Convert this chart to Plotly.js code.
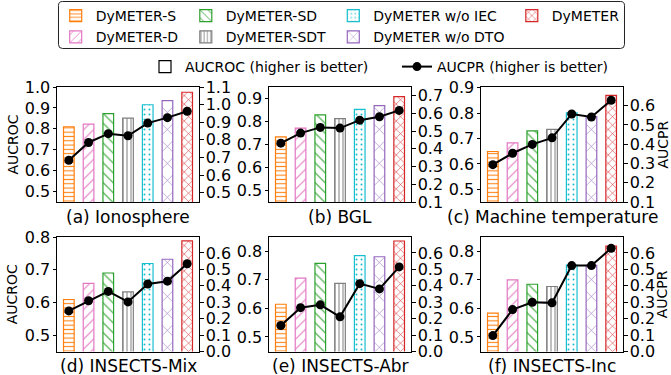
<!DOCTYPE html>
<html><head><meta charset="utf-8">
<script src="https://cdn.plot.ly/plotly-3.0.1.min.js"></script>
<style>html,body{margin:0;padding:0;background:#fff}#chart{width:671px;height:375px}</style>
</head><body><div id="chart"></div>
<script>
// ---- data ----
const methods = ['DyMETER-S','DyMETER-D','DyMETER-SD','DyMETER-SDT','DyMETER w/o IEC','DyMETER w/o DTO','DyMETER'];
const datasets = ['(a) Ionosphere','(b) BGL','(c) Machine temperature','(d) INSECTS-Mix','(e) INSECTS-Abr','(f) INSECTS-Inc'];

const aucrocIonosphere = [0.810, 0.822, 0.873, 0.851, 0.915, 0.935, 0.975];
const aucrocBGL        = [0.733, 0.771, 0.828, 0.812, 0.852, 0.868, 0.907];
const aucrocMachine    = [0.649, 0.683, 0.730, 0.736, 0.801, 0.786, 0.870];
const aucrocMix        = [0.609, 0.658, 0.690, 0.632, 0.719, 0.732, 0.788];
const aucrocAbr        = [0.614, 0.705, 0.757, 0.687, 0.784, 0.780, 0.835];
const aucrocInc        = [0.583, 0.699, 0.684, 0.676, 0.751, 0.750, 0.817];

const aucprIonosphere = [0.684, 0.785, 0.835, 0.823, 0.895, 0.926, 0.962];
const aucprBGL        = [0.432, 0.489, 0.521, 0.517, 0.562, 0.581, 0.617];
const aucprMachine    = [0.294, 0.353, 0.399, 0.433, 0.557, 0.541, 0.628];
const aucprMix        = [0.247, 0.309, 0.366, 0.302, 0.411, 0.428, 0.534];
const aucprAbr        = [0.158, 0.267, 0.284, 0.211, 0.413, 0.381, 0.515];
const aucprInc        = [0.097, 0.255, 0.300, 0.296, 0.523, 0.523, 0.628];

const aucrocAll = [aucrocIonosphere, aucrocBGL, aucrocMachine, aucrocMix, aucrocAbr, aucrocInc];
const aucprAll  = [aucprIonosphere, aucprBGL, aucprMachine, aucprMix, aucprAbr, aucprInc];

const metricLabels = ['AUCROC (higher is better)', 'AUCPR (higher is better)'];
const leftTitle = 'AUCROC';
const rightTitle = 'AUCPR';

// ---- styles ----
const colors = ['#ff7f0e','#e377c2','#2ca02c','#7f7f7f','#17becf','#9467bd','#d62728'];
const shapes = ['-','/','\\','|','.','x','x'];
const psizes = [4.3, 7, 7, 4, 5, 12, 6];
const psolid = [0.25, 0.15, 0.15, 0.25, 0.12, 0.09, 0.17];
const legendOf = ['legend','legend','legend2','legend2','legend3','legend3','legend4'];

const W = 671, H = 375;
const px = v => v / W, py = v => 1 - v / H;
const FONT = 'DejaVu Sans';
const TICKSIZE = 16;

// panel geometry (pixels) and axis ranges
const panels = [
  {x0:57,  x1:199, y0:87,  y1:202, left:[0.45,1.0],   right:[0.447,1.10]},
  {x0:269, x1:411, y0:87,  y1:202, left:[0.451,0.949],right:[0.1,0.749]},
  {x0:481, x1:623, y0:87,  y1:202, left:[0.45,0.903], right:[0.1,0.697]},
  {x0:57,  x1:199, y0:237, y1:351.5, left:[0.45,0.80], right:[0,0.697]},
  {x0:269, x1:411, y0:237, y1:351.5, left:[0.449,0.849],right:[0,0.697]},
  {x0:481, x1:623, y0:237, y1:351.5, left:[0.449,0.849],right:[0,0.697]},
];

const traces = [];
const layout = {
  width: W, height: H,
  margin: {l:0, r:0, t:0, b:0},
  paper_bgcolor: '#fff', plot_bgcolor: 'rgba(0,0,0,0)',
  font: {family: FONT, size: 17, color: '#000'},
  barmode: 'overlay',
  showlegend: true,
  annotations: [], shapes: []
};

const axisBase = {
  showgrid: false, zeroline: false, showline: true, linecolor: '#000', linewidth: 1,
  fixedrange: true
};

panels.forEach((p, k) => {
  const xn = k === 0 ? '' : String(k + 1);
  const yl = 2 * k + 1, yr = 2 * k + 2;
  const ylName = yl === 1 ? '' : String(yl);
  const yrName = String(yr);
  const tickCommon = {
    tick0: 0, dtick: 0.1, tickformat: '.1f',
    ticks: 'outside', ticklen: 3.5, tickwidth: 1, tickcolor: '#000',
    tickfont: {family: FONT, size: TICKSIZE, color: '#000'}, ticklabelstandoff: -1
  };
  layout['xaxis' + xn] = Object.assign({}, axisBase, {
    domain: [px(p.x0), px(p.x1)], anchor: 'y' + ylName,
    type: 'category', categoryorder: 'array', categoryarray: methods,
    range: [-0.6, 6.6], showticklabels: false, ticks: '', mirror: true
  });
  layout['yaxis' + ylName] = Object.assign({}, axisBase, tickCommon, {
    domain: [py(p.y1), py(p.y0)], anchor: 'x' + xn, side: 'left',
    range: p.left
  });
  layout['yaxis' + yrName] = Object.assign({}, axisBase, tickCommon, {
    domain: [py(p.y1), py(p.y0)], anchor: 'x' + xn, side: 'right',
    overlaying: 'y' + ylName, range: p.right
  });

  methods.forEach((m, i) => {
    traces.push({
      type: 'bar', name: m, x: [m], y: [aucrocAll[k][i]],
      xaxis: 'x' + xn, yaxis: 'y' + ylName, width: 0.54,
      marker: {
        color: colors[i],
        line: {color: colors[i], width: 1.2},
        pattern: {shape: shapes[i], size: psizes[i], solidity: psolid[i],
                  fgcolor: colors[i], bgcolor: '#fff', fillmode: 'replace'}
      },
      showlegend: k === 0, legend: legendOf[i], legendgroup: m,
      hoverinfo: 'skip'
    });
  });
  traces.push({
    type: 'scatter', mode: 'lines+markers', x: methods, y: aucprAll[k],
    xaxis: 'x' + xn, yaxis: 'y' + yrName,
    line: {color: '#000', width: 2}, marker: {color: '#000', size: 9},
    showlegend: false, hoverinfo: 'skip'
  });

  layout.annotations.push({
    text: datasets[k], xref: 'paper', yref: 'paper',
    x: px((p.x0 + p.x1) / 2), y: py(k < 3 ? 216.5 : 365.5),
    xanchor: 'center', yanchor: 'middle', showarrow: false,
    font: {family: FONT, size: 17, color: '#000'}
  });
});

// y-axis titles
[[0, 12, 'left'], [3, 12, 'left'], [2, 662, 'right'], [5, 662, 'right']].forEach(([k, xpix, side]) => {
  const p = panels[k];
  layout.annotations.push({
    text: side === 'left' ? leftTitle : rightTitle, textangle: -90,
    xref: 'paper', yref: 'paper', x: px(xpix), y: py((p.y0 + p.y1) / 2),
    xanchor: 'center', yanchor: 'middle', showarrow: false,
    font: {family: FONT, size: 14, color: '#000'}
  });
});

// metric legend entries
traces.push({
  type: 'bar', name: metricLabels[0], x: [null], y: [null], xaxis: 'x', yaxis: 'y',
  marker: {color: '#fff', line: {color: '#000', width: 1.2}},
  showlegend: true, legend: 'legend5', hoverinfo: 'skip'
});
traces.push({
  type: 'scatter', mode: 'lines+markers', name: metricLabels[1], x: [null], y: [null],
  xaxis: 'x', yaxis: 'y2', line: {color: '#000', width: 2}, marker: {color: '#000', size: 9},
  showlegend: true, legend: 'legend6', hoverinfo: 'skip'
});

const legBase = {
  orientation: 'v', xanchor: 'left', yanchor: 'top', bgcolor: 'rgba(0,0,0,0)',
  borderwidth: 0, font: {family: FONT, size: 14, color: '#000'},
  tracegroupgap: 0, itemclick: false, itemdoubleclick: false
};
layout.legend  = Object.assign({}, legBase, {x: px(55.7),  y: py(0)});
layout.legend2 = Object.assign({}, legBase, {x: px(185.8), y: py(0)});
layout.legend3 = Object.assign({}, legBase, {x: px(333.3), y: py(0)});
layout.legend4 = Object.assign({}, legBase, {x: px(511.8), y: py(0)});
layout.legend5 = Object.assign({}, legBase, {x: px(145),   y: py(51)});
layout.legend6 = Object.assign({}, legBase, {x: px(397),   y: py(51)});

// rounded legend frame
(function () {
  const l = 58.5, r = 624.5, t = 1.5, b = 48.5, rad = 4;
  const X = v => px(v).toFixed(5), Y = v => py(v).toFixed(5);
  const d = `M${X(l + rad)},${Y(t)} L${X(r - rad)},${Y(t)} Q${X(r)},${Y(t)} ${X(r)},${Y(t + rad)} ` +
            `L${X(r)},${Y(b - rad)} Q${X(r)},${Y(b)} ${X(r - rad)},${Y(b)} ` +
            `L${X(l + rad)},${Y(b)} Q${X(l)},${Y(b)} ${X(l)},${Y(b - rad)} ` +
            `L${X(l)},${Y(t + rad)} Q${X(l)},${Y(t)} ${X(l + rad)},${Y(t)} Z`;
  layout.shapes.push({type: 'path', xref: 'paper', yref: 'paper', path: d,
    line: {color: '#222', width: 1}, fillcolor: 'rgba(0,0,0,0)', layer: 'below'});
})();

Plotly.newPlot('chart', traces, layout, {displayModeBar: false, staticPlot: true});
</script>
</body></html>
